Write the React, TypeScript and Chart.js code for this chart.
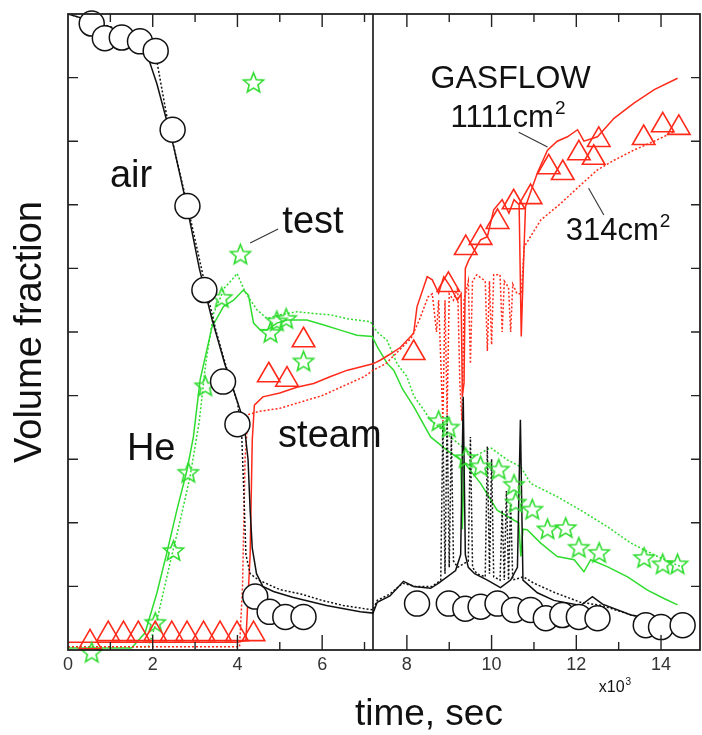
import React, { useEffect, useRef } from 'react';
import { Chart, registerables } from 'chart.js';

Chart.register(...registerables);

type P = [number, number];

// time in 10^3 s, volume fraction 0..1
const AIR_TEST: P[] = [
  [0.56, 0.985], [0.87, 0.962], [1.27, 0.963], [1.70, 0.957], [2.07, 0.942],
  [2.47, 0.818], [2.82, 0.698], [3.22, 0.566], [3.66, 0.422], [4.0, 0.355],
  [4.42, 0.084], [4.76, 0.06], [5.13, 0.052], [5.56, 0.052],
  [8.24, 0.073], [8.99, 0.073], [9.38, 0.065], [9.74, 0.068], [10.14, 0.073],
  [10.53, 0.063], [10.92, 0.063], [11.28, 0.05], [11.67, 0.055], [12.06, 0.052],
  [12.5, 0.05], [13.64, 0.039], [14.0, 0.036], [14.51, 0.039],
];

const STEAM_TEST: P[] = [
  [0.52, 0.012], [0.95, 0.025], [1.31, 0.025], [1.66, 0.025], [2.06, 0.025],
  [2.45, 0.025], [2.81, 0.025], [3.2, 0.025], [3.59, 0.025], [3.99, 0.025], [4.38, 0.025],
  [4.74, 0.432], [5.17, 0.425], [5.56, 0.487],
  [8.16, 0.467], [8.98, 0.574], [9.39, 0.632], [9.74, 0.648], [10.14, 0.673],
  [10.52, 0.704], [10.92, 0.712], [11.35, 0.759], [11.68, 0.75], [12.06, 0.781],
  [12.41, 0.774], [12.53, 0.802], [13.59, 0.805], [14.04, 0.825], [14.42, 0.821],
];

const HE_TEST: P[] = [
  [0.56, -0.005], [2.06, 0.042], [2.49, 0.155], [2.84, 0.278], [3.24, 0.414],
  [3.63, 0.553], [4.07, 0.621], [4.38, 0.891], [4.78, 0.498], [4.93, 0.516],
  [5.15, 0.52], [5.56, 0.453],
  [8.75, 0.359], [8.99, 0.349], [9.39, 0.301], [9.74, 0.288], [10.17, 0.283],
  [10.53, 0.259], [10.57, 0.231], [10.96, 0.22], [11.32, 0.189], [11.75, 0.191],
  [12.06, 0.16], [12.54, 0.152], [13.6, 0.144], [14.04, 0.134], [14.39, 0.134],
];

const AIR_1111: P[] = [
  [0, 1.0], [0.5, 0.99], [1.0, 0.975], [1.5, 0.962], [1.9, 0.93], [2.1, 0.89],
  [2.3, 0.84], [2.5, 0.79], [2.8, 0.7], [3.1, 0.6], [3.4, 0.52], [3.7, 0.45],
  [3.95, 0.4], [4.15, 0.36], [4.25, 0.3], [4.3, 0.22], [4.35, 0.16], [4.45, 0.12],
  [4.6, 0.1], [4.85, 0.092], [5.3, 0.083], [6.1, 0.07], [6.9, 0.06], [7.2, 0.058],
  [7.3, 0.075], [7.6, 0.085], [7.92, 0.108], [8.16, 0.1], [8.56, 0.097], [8.75, 0.105],
  [9.15, 0.125], [9.27, 0.15], [9.33, 0.398], [9.38, 0.15], [9.45, 0.13], [9.6, 0.12],
  [9.9, 0.11], [10.21, 0.098], [10.45, 0.11], [10.61, 0.13], [10.68, 0.362], [10.74, 0.11],
  [11.08, 0.09], [11.47, 0.078], [12.1, 0.07], [12.38, 0.084], [12.62, 0.072],
  [13.29, 0.055], [13.92, 0.047], [14.47, 0.042],
];

const AIR_314: P[] = [
  [0, 1.0], [1.0, 0.98], [1.8, 0.962], [2.1, 0.925], [2.33, 0.84], [2.5, 0.79],
  [2.85, 0.69], [3.2, 0.585], [3.5, 0.5], [3.8, 0.43], [4.0, 0.39], [4.1, 0.34],
  [4.15, 0.25], [4.2, 0.15], [4.3, 0.12], [4.5, 0.11], [5.0, 0.095], [5.5, 0.088],
  [6.0, 0.078], [6.5, 0.07], [7.0, 0.065], [7.2, 0.063], [7.3, 0.078], [7.6, 0.088],
  [7.9, 0.105], [8.2, 0.1], [8.6, 0.1], [8.8, 0.11], [8.85, 0.36], [8.9, 0.12],
  [8.95, 0.37], [9.0, 0.13], [9.05, 0.34], [9.1, 0.14], [9.2, 0.13], [9.45, 0.14],
  [9.5, 0.335], [9.55, 0.13], [9.65, 0.12], [9.85, 0.115], [9.9, 0.32], [9.95, 0.12],
  [10.0, 0.3], [10.05, 0.115], [10.2, 0.11], [10.25, 0.22], [10.3, 0.11], [10.35, 0.25],
  [10.4, 0.11], [10.45, 0.23], [10.5, 0.11], [10.75, 0.115], [11.0, 0.105], [11.5, 0.09],
  [12.1, 0.075], [12.6, 0.07], [13.3, 0.055], [13.9, 0.047], [14.47, 0.042],
];

const STEAM_1111: P[] = [
  [0, 0.012], [4.0, 0.012], [4.2, 0.015], [4.3, 0.15], [4.35, 0.33], [4.4, 0.385],
  [4.6, 0.398], [5.0, 0.404], [5.4, 0.413], [5.8, 0.419], [6.2, 0.43], [6.6, 0.44],
  [7.2, 0.45], [7.38, 0.456], [7.6, 0.465], [7.85, 0.476], [8.16, 0.498], [8.24, 0.54],
  [8.48, 0.587], [8.6, 0.582], [8.75, 0.561], [8.87, 0.587], [9.03, 0.571], [9.19, 0.55],
  [9.28, 0.56], [9.31, 0.4], [9.35, 0.42], [9.38, 0.6], [9.46, 0.613], [9.74, 0.645],
  [9.9, 0.65], [10.05, 0.692], [10.25, 0.708], [10.41, 0.687], [10.53, 0.708], [10.65, 0.7],
  [10.7, 0.493], [10.75, 0.6], [10.8, 0.697], [11.08, 0.75], [11.32, 0.786], [11.55, 0.8],
  [11.79, 0.807], [12.03, 0.818], [12.18, 0.8], [12.5, 0.807], [12.89, 0.836],
  [13.36, 0.86], [13.84, 0.881], [14.39, 0.899],
];

const STEAM_314: P[] = [
  [0, 0.005], [4.05, 0.005], [4.12, 0.1], [4.18, 0.3], [4.25, 0.37], [4.5, 0.375],
  [5.0, 0.38], [5.5, 0.39], [6.0, 0.4], [6.5, 0.415], [7.0, 0.43], [7.2, 0.44],
  [7.5, 0.45], [7.8, 0.47], [8.1, 0.49], [8.3, 0.52], [8.5, 0.555], [8.6, 0.56],
  [8.7, 0.5], [8.75, 0.55], [8.85, 0.36], [8.9, 0.55], [8.95, 0.37], [9.0, 0.56],
  [9.1, 0.55], [9.2, 0.57], [9.25, 0.42], [9.3, 0.36], [9.35, 0.55], [9.45, 0.58],
  [9.5, 0.45], [9.55, 0.58], [9.65, 0.59], [9.85, 0.58], [9.9, 0.47], [9.95, 0.58],
  [10.0, 0.48], [10.05, 0.59], [10.2, 0.59], [10.25, 0.5], [10.3, 0.58], [10.4, 0.57],
  [10.45, 0.5], [10.5, 0.575], [10.6, 0.56], [10.7, 0.56], [10.77, 0.634], [11.16, 0.676],
  [11.63, 0.702], [12.1, 0.731], [12.5, 0.755], [12.89, 0.77], [13.36, 0.786],
  [13.84, 0.8], [14.31, 0.815],
];

const HE_1111: P[] = [
  [0, 0.003], [1.5, 0.003], [1.82, 0.027], [2.1, 0.09], [2.33, 0.152], [2.57, 0.22],
  [2.81, 0.283], [2.96, 0.335], [3.12, 0.425], [3.4, 0.508], [3.67, 0.54], [3.91, 0.55],
  [4.14, 0.566], [4.26, 0.558], [4.38, 0.514], [4.54, 0.503], [4.7, 0.503], [4.93, 0.514],
  [5.17, 0.519], [5.64, 0.519], [6.04, 0.511], [6.43, 0.503], [6.82, 0.495], [7.18, 0.493],
  [7.3, 0.477], [7.53, 0.451], [7.69, 0.44], [7.9, 0.41], [8.16, 0.383], [8.56, 0.335],
  [8.95, 0.314], [9.27, 0.299], [9.31, 0.19], [9.35, 0.295], [9.74, 0.262], [10.13, 0.22],
  [10.53, 0.204], [10.64, 0.2], [10.69, 0.147], [10.74, 0.19], [10.84, 0.189],
  [11.16, 0.168], [11.55, 0.147], [11.95, 0.142], [12.18, 0.123], [12.34, 0.142],
  [12.73, 0.131], [13.21, 0.115], [13.68, 0.094], [14.07, 0.081], [14.39, 0.071],
];

const HE_314: P[] = [
  [0, 0.005], [1.9, 0.005], [2.1, 0.047], [2.41, 0.137], [2.65, 0.204], [2.88, 0.272],
  [3.1, 0.36], [3.25, 0.45], [3.44, 0.53], [3.7, 0.57], [3.87, 0.582], [3.99, 0.592],
  [4.18, 0.563], [4.46, 0.535], [4.7, 0.521], [5.01, 0.527], [5.41, 0.532], [5.8, 0.529],
  [6.19, 0.527], [6.59, 0.521], [7.14, 0.516], [7.3, 0.5], [7.53, 0.487], [7.77, 0.45],
  [8.0, 0.43], [8.16, 0.4], [8.56, 0.362], [9.03, 0.335], [9.58, 0.304], [9.98, 0.318],
  [10.37, 0.299], [10.69, 0.288], [10.92, 0.262], [11.55, 0.241], [12.1, 0.22],
  [12.73, 0.194], [13.29, 0.168], [13.92, 0.147], [14.47, 0.131],
];

const TIME_MARK: P[] = [[7.2, 0], [7.2, 1]];

const LEADER_TEST: P[] = [[4.3, 0.64], [4.96, 0.662]];
const LEADER_1111: P[] = [[10.64, 0.814], [11.32, 0.791]];
const LEADER_314: P[] = [[12.29, 0.726], [12.65, 0.684]];

const X_MIN = 0;
const X_MAX = 14.92;
const Y_MIN = 0;
const Y_MAX = 1;

// annotation text anchored in data coordinates (baseline)
const NOTES = [
  { text: 'air', sup: '', x: 0.99, y: 0.728, size: 38, align: 'left' },
  { text: 'test', sup: '', x: 5.06, y: 0.656, size: 38, align: 'left' },
  { text: 'He', sup: '', x: 1.39, y: 0.299, size: 38, align: 'left' },
  { text: 'steam', sup: '', x: 4.96, y: 0.319, size: 38, align: 'left' },
  { text: 'GASFLOW', sup: '', x: 8.56, y: 0.884, size: 32, align: 'left' },
  { text: '1111cm', sup: '2', x: 9.03, y: 0.822, size: 31, align: 'left' },
  { text: '314cm', sup: '2', x: 11.75, y: 0.645, size: 31, align: 'left' },
  { text: 'x10', sup: '3', x: 12.53, y: -0.066, size: 16, align: 'left' },
  { text: 'time, sec', sup: '', x: 8.52, y: -0.118, size: 37, align: 'center' },
];

const RED = '#ff2a1a';
const GREEN = '#2fdc2f';
const BLACK = '#111111';
const FONT = '"Liberation Sans", Arial, Helvetica, sans-serif';

const pts = (a: P[]) => a.map(([x, y]) => ({ x, y }));

function makeStar(color: string, outer: number, inner: number, lw: number) {
  const s = Math.ceil(outer * 2 + lw * 2 + 2);
  const c = document.createElement('canvas');
  c.width = s;
  c.height = s;
  const ctx = c.getContext('2d')!;
  ctx.translate(s / 2, s / 2);
  ctx.beginPath();
  for (let i = 0; i < 10; i++) {
    const r = i % 2 === 0 ? outer : inner;
    const a = -Math.PI / 2 + (i * Math.PI) / 5;
    const px = Math.cos(a) * r;
    const py = Math.sin(a) * r;
    if (i === 0) ctx.moveTo(px, py);
    else ctx.lineTo(px, py);
  }
  ctx.closePath();
  ctx.strokeStyle = color;
  ctx.lineWidth = lw;
  ctx.lineJoin = 'miter';
  ctx.stroke();
  return c;
}

const framePlugin = {
  id: 'frameAndNotes',
  afterDatasetsDraw(chart: any) {
    const { ctx, chartArea: a, scales } = chart;
    const xs = scales.x;
    const ys = scales.y;
    ctx.save();
    ctx.strokeStyle = '#222';
    ctx.lineWidth = 1.8;
    ctx.strokeRect(a.left, a.top, a.right - a.left, a.bottom - a.top);
    ctx.lineWidth = 1.4;
    ctx.beginPath();
    xs.ticks.forEach((t: any) => {
      const px = xs.getPixelForValue(t.value);
      if (px <= a.left + 1 || px >= a.right - 1) return;
      const major = Math.abs(t.value % 2) < 1e-6;
      const lb = major ? 15 : 8;
      const lt = major ? 13 : 8;
      ctx.moveTo(px, a.bottom);
      ctx.lineTo(px, a.bottom - lb);
      ctx.moveTo(px, a.top);
      ctx.lineTo(px, a.top + lt);
    });
    ys.ticks.forEach((t: any) => {
      const py = ys.getPixelForValue(t.value);
      if (py <= a.top + 1 || py >= a.bottom - 1) return;
      ctx.moveTo(a.left, py);
      ctx.lineTo(a.left + 10, py);
      ctx.moveTo(a.right, py);
      ctx.lineTo(a.right - 9, py);
    });
    ctx.stroke();

    ctx.fillStyle = BLACK;
    ctx.textBaseline = 'alphabetic';
    NOTES.forEach((n) => {
      const px = xs.getPixelForValue(n.x);
      const py = ys.getPixelForValue(n.y);
      ctx.font = `${n.size}px ${FONT}`;
      ctx.textAlign = n.align as CanvasTextAlign;
      ctx.fillText(n.text, px, py);
      if (n.sup) {
        const w = ctx.measureText(n.text).width;
        ctx.textAlign = 'left';
        ctx.font = `${Math.round(n.size * 0.62)}px ${FONT}`;
        ctx.fillText(n.sup, px + w + 1, py - n.size * 0.42);
      }
    });
    ctx.restore();
  },
};

export default function App() {
  const ref = useRef<HTMLCanvasElement | null>(null);

  useEffect(() => {
    if (!ref.current) return;
    const star = makeStar(GREEN, 10.5, 4.6, 1.6);
    const lineDs = (data: P[], color: string, dashed: boolean, width = 1.5) => ({
      type: 'scatter' as const,
      data: pts(data),
      showLine: true,
      borderColor: color,
      borderWidth: width,
      borderDash: dashed ? [2, 2] : [],
      pointRadius: 0,
      pointHoverRadius: 0,
      fill: false,
      tension: 0,
    });

    const chart = new Chart(ref.current, {
      type: 'scatter',
      data: {
        datasets: [
          {
            data: pts(AIR_TEST),
            pointStyle: 'circle',
            pointRadius: 12.5,
            pointBackgroundColor: '#ffffff',
            pointBorderColor: BLACK,
            pointBorderWidth: 1.5,
            showLine: false,
            clip: false,
          } as any,
          {
            data: pts(STEAM_TEST),
            pointStyle: 'triangle',
            pointRadius: 13,
            pointBackgroundColor: 'rgba(255,255,255,0)',
            pointBorderColor: RED,
            pointBorderWidth: 1.6,
            showLine: false,
            clip: false,
          } as any,
          {
            data: pts(HE_TEST),
            pointStyle: star,
            pointRadius: 11,
            showLine: false,
            clip: false,
          } as any,
          lineDs(AIR_1111, BLACK, false),
          lineDs(AIR_314, BLACK, true),
          lineDs(STEAM_1111, RED, false),
          lineDs(STEAM_314, RED, true),
          lineDs(HE_1111, GREEN, false),
          lineDs(HE_314, GREEN, true),
          lineDs(TIME_MARK, BLACK, false, 1.6),
          lineDs(LEADER_TEST, '#333', false, 1.1),
          lineDs(LEADER_1111, '#333', false, 1.1),
          lineDs(LEADER_314, '#333', false, 1.1),
        ],
      },
      options: {
        animation: false,
        responsive: false,
        devicePixelRatio: 1,
        events: [],
        layout: { autoPadding: false, padding: { left: 0, right: 2, top: 14, bottom: 55.4 } },
        plugins: {
          legend: { display: false },
          tooltip: { enabled: false },
        },
        scales: {
          x: {
            type: 'linear',
            position: 'bottom',
            min: X_MIN,
            max: X_MAX,
            grid: { display: false, drawTicks: false },
            border: { display: false },
            afterFit: (s: any) => {
              s.paddingLeft = 0;
              s.paddingRight = 0;
            },
            ticks: {
              stepSize: 1,
              includeBounds: false,
              autoSkip: false,
              maxRotation: 0,
              padding: 4,
              color: '#333',
              font: { family: FONT, size: 18 },
              callback: (v: any) => (Math.abs(Number(v) % 2) < 1e-6 ? String(Math.round(Number(v))) : ''),
            },
            title: { display: false },
          },
          y: {
            type: 'linear',
            position: 'left',
            min: Y_MIN,
            max: Y_MAX,
            grid: { display: false, drawTicks: false },
            border: { display: false },
            ticks: { stepSize: 0.1, display: false },
            title: {
              display: true,
              text: 'Volume fraction',
              color: BLACK,
              font: { family: FONT, size: 38, lineHeight: 1 },
              padding: { top: 11.5, bottom: 18.5 },
            },
          },
        },
      } as any,
      plugins: [framePlugin],
    });
    return () => chart.destroy();
  }, []);

  return (
    <div style={{ position: 'fixed', left: 0, top: 0, width: 702, height: 735, background: '#fff' }}>
      <canvas ref={ref} width={702} height={735} style={{ width: 702, height: 735 }} />
    </div>
  );
}
